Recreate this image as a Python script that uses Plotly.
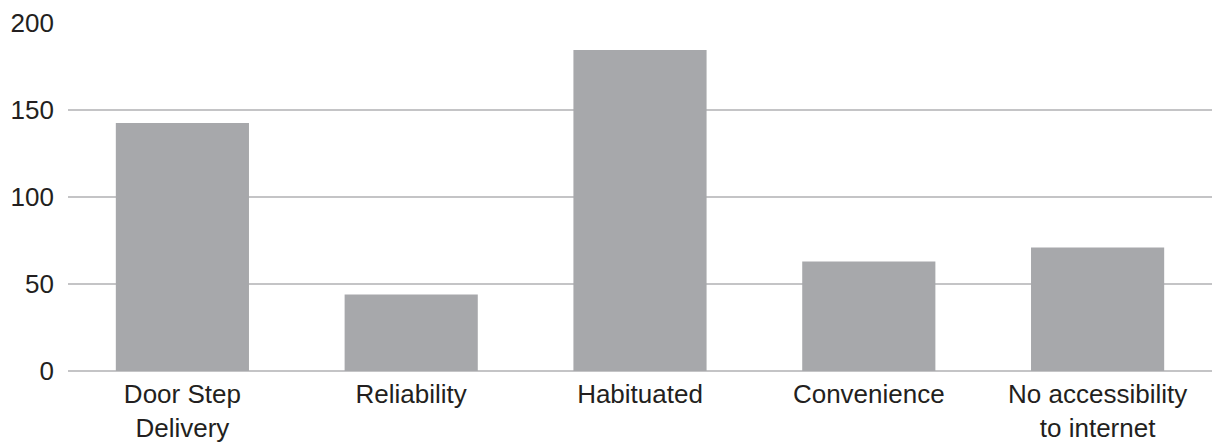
import plotly.graph_objects as go

categories = ["Door Step Delivery", "Reliability", "Habituated", "Convenience", "No accessibility to internet"]
tick_labels = ["Door Step<br>Delivery", "Reliability", "Habituated", "Convenience", "No accessibility<br>to internet"]
values = [142.5, 44, 184.5, 63, 71]
y_ticks = [0, 50, 100, 150, 200]

FONT = "Liberation Sans, Arial, Helvetica, sans-serif"
TEXT_COLOR = "#231f20"
FONT_SIZE = 26

fig = go.Figure(
    go.Bar(
        x=categories,
        y=values,
        marker=dict(color="#a7a8ab", line=dict(width=0)),
        hoverinfo="x+y",
    )
)

fig.update_layout(
    width=1215,
    height=443,
    margin=dict(l=68, r=3, t=23, b=72),
    paper_bgcolor="white",
    plot_bgcolor="white",
    bargap=0.418,
    showlegend=False,
    font=dict(family=FONT, size=FONT_SIZE, color=TEXT_COLOR),
)

fig.update_xaxes(
    tickmode="array",
    tickvals=categories,
    ticktext=tick_labels,
    showgrid=False,
    showline=False,
    ticks="",
    automargin=False,
    ticklabelstandoff=5,
    tickfont=dict(family=FONT, size=FONT_SIZE, color=TEXT_COLOR),
)

fig.update_yaxes(
    range=[0, 200],
    tickmode="array",
    tickvals=y_ticks,
    showgrid=True,
    gridcolor="#c4c4c6",
    gridwidth=2,
    zeroline=True,
    zerolinecolor="#c4c4c6",
    zerolinewidth=2,
    showline=False,
    ticks="",
    automargin=False,
    ticklabelstandoff=13,
    tickfont=dict(family=FONT, size=FONT_SIZE, color=TEXT_COLOR),
)

fig.write_html("out.html")
